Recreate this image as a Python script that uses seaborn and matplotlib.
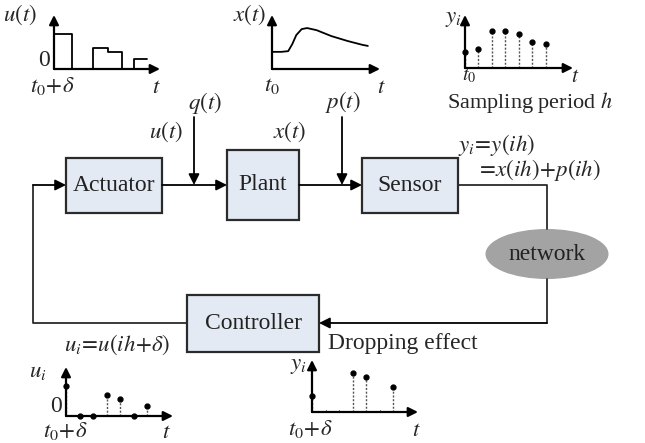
import matplotlib.pyplot as plt
import seaborn as sns
from matplotlib.patches import Rectangle, Ellipse

# ---- data ----
# continuous control signal u(t) (zero-order hold), times in sampling periods h
u_t_edges = [0, 1.3, 2.9, 4.0, 5.0, 5.9, 6.9]
u_t_levels = [1.0, 0.0, 0.6, 0.49, 0.0, 0.29]

# plant state x(t)
x_t_time = [0, 0.7, 1.2, 1.5, 1.8, 2.2, 2.6, 3.3, 4.4, 5.6, 6.7, 7.1]
x_t_vals = [0.49, 0.49, 0.51, 0.71, 0.97, 1.14, 1.17, 1.11, 0.94, 0.80, 0.69, 0.66]

# sampled measurements y_i
sample_k = [0, 1, 2, 3, 4, 5, 6]
y_sampled = [0.46, 0.54, 1.06, 1.06, 0.97, 0.74, 0.69]

# controller outputs u_i
u_held = [0.86, 0.0, 0.0, 0.6, 0.49, 0.0, 0.29]

# measurements received after packet dropping (None = dropped)
y_received = [0.46, None, None, 1.11, 1.0, None, 0.71]

blocks = ["Actuator", "Plant", "Sensor", "Controller"]

sns.set_theme(style="white")
plt.rcParams["font.family"] = ["Liberation Serif", "DejaVu Serif"]
plt.rcParams["mathtext.fontset"] = "stix"

W, H = 645, 443
fig = plt.figure(figsize=(6.45, 4.43), dpi=100)
ax = fig.add_axes([0, 0, 1, 1])
ax.set_xlim(0, W)
ax.set_ylim(H, 0)
ax.axis("off")

PX_X, PX_Y = 13.5, 35.0  # pixels per h and per unit of signal
BOX_FACE = "#e4eaf4"
LINE = "#2b2b2b"
TXT = 17      # plain text size
MATH = 16.5   # italic label size
arrow = dict(arrowstyle="-|>", color="black", lw=1.3, mutation_scale=16, shrinkA=0, shrinkB=0)


def inset(ox, oy, xlen, ylen):
    # small axes whose origin sits at pixel (ox, oy)
    a = fig.add_axes([ox / W, 1 - oy / H, xlen / W, ylen / H])
    a.set_xlim(0, xlen / PX_X)
    a.set_ylim(0, ylen / PX_Y)
    a.axis("off")
    a.annotate("", xy=(1.0, 0), xytext=(0, 0), xycoords="axes fraction",
               arrowprops=dict(arrowstyle="-|>", color="black", lw=1.6, mutation_scale=14, shrinkA=0, shrinkB=0))
    a.annotate("", xy=(0, 1.0), xytext=(0, 0), xycoords="axes fraction",
               arrowprops=dict(arrowstyle="-|>", color="black", lw=1.6, mutation_scale=14, shrinkA=0, shrinkB=0))
    return a


def stems(a, ks, vals, marker_size=3.5):
    for k, v in zip(ks, vals):
        if v is None:
            a.plot([k, k], [0, 0.06], color="#777777", lw=0.8, clip_on=False)
            continue
        if v > 0:
            a.plot([k, k], [0, v], color="#555555", lw=1.0, ls=(0, (1.5, 1.2)), clip_on=False)
        a.plot(k, v, "o", color="black", ms=marker_size, clip_on=False)


# ---- top-left: u(t) ----
a1 = inset(54, 69, 106, 54)
a1.step(u_t_edges, u_t_levels + [u_t_levels[-1]], where="post", color="black", lw=1.3)
ax.text(20, 15, "$u(t)$", fontsize=MATH, ha="center", va="center")
ax.text(44, 60, "0", fontsize=TXT, ha="center", va="center")
ax.text(52, 86, r"$t_0\!+\!\delta$", fontsize=MATH, ha="center", va="center")
ax.text(156, 87, "$t$", fontsize=MATH, ha="center", va="center")

# ---- top-middle: x(t) ----
a2 = inset(272, 69, 108, 54)
sns.lineplot(x=x_t_time, y=x_t_vals, ax=a2, color="black", lw=1.3)
a2.axis("off")
ax.text(250, 15, "$x(t)$", fontsize=MATH, ha="center", va="center")
ax.text(272, 85, "$t_0$", fontsize=MATH, ha="center", va="center")
ax.text(381, 87, "$t$", fontsize=MATH, ha="center", va="center")

# ---- top-right: sampled y_i ----
a3 = inset(465, 68, 108, 53)
stems(a3, sample_k, y_sampled)
ax.text(453, 18, "$y_i$", fontsize=MATH, ha="center", va="center")
ax.text(469, 76, "$t_0$", fontsize=MATH - 2, ha="center", va="center")
ax.text(575, 77, "$t$", fontsize=MATH - 1, ha="center", va="center")
ax.text(530, 102, "Sampling period $h$", fontsize=16, ha="center", va="center")

# ---- blocks ----
box_geom = {"Actuator": (66, 158, 96, 55), "Plant": (227, 150, 72, 70),
            "Sensor": (362, 158, 96, 55), "Controller": (187, 295, 132, 57)}
for name in blocks:
    bx, by, bw, bh = box_geom[name]
    ax.add_patch(Rectangle((bx, by), bw, bh, facecolor=BOX_FACE, edgecolor=LINE, lw=1.6))
    ax.text(bx + bw / 2, by + bh / 2, name, fontsize=TXT, ha="center", va="center", color="#222222")

ax.add_patch(Ellipse((547, 254), 123, 50, facecolor="#a3a3a3", edgecolor="none"))
ax.text(547, 254, "network", fontsize=TXT, ha="center", va="center", color="#222222")

# ---- connections ----
ax.annotate("", xy=(227, 185), xytext=(162, 185), arrowprops=arrow)
ax.annotate("", xy=(194, 185), xytext=(194, 117), arrowprops=arrow)
ax.annotate("", xy=(362, 185), xytext=(299, 185), arrowprops=arrow)
ax.annotate("", xy=(342, 185), xytext=(342, 117), arrowprops=arrow)
ax.plot([458, 547, 547], [185, 185, 229], color=LINE, lw=1.3)
ax.plot([547, 547], [279, 323], color=LINE, lw=1.3)
ax.annotate("", xy=(319, 323), xytext=(547, 323), arrowprops=arrow)
ax.plot([187, 33, 33], [323, 323, 185], color=LINE, lw=1.3)
ax.annotate("", xy=(66, 185), xytext=(33, 185), arrowprops=arrow)

ax.text(205, 103, "$q(t)$", fontsize=MATH, ha="center", va="center")
ax.text(166, 132, "$u(t)$", fontsize=MATH, ha="center", va="center")
ax.text(290, 132, "$x(t)$", fontsize=MATH, ha="center", va="center")
ax.text(343, 102, "$p(t)$", fontsize=MATH, ha="center", va="center")
ax.text(496, 145, "$y_i\\!=\\!y(ih)$", fontsize=MATH, ha="center", va="center")
ax.text(538, 170, "$=\\!x(ih)\\!+\\!p(ih)$", fontsize=MATH, ha="center", va="center")
ax.text(117, 345, "$u_i\\!=\\!u(ih\\!+\\!\\delta)$", fontsize=MATH, ha="center", va="center")
ax.text(403, 343, "Dropping effect", fontsize=TXT, ha="center", va="center")

# ---- bottom-left: u_i ----
a4 = inset(66, 416, 107, 49)
stems(a4, sample_k, u_held)
ax.text(38, 372, "$u_i$", fontsize=MATH, ha="center", va="center")
ax.text(56, 407, "0", fontsize=TXT, ha="center", va="center")
ax.text(65, 431, r"$t_0\!+\!\delta$", fontsize=MATH, ha="center", va="center")
ax.text(166, 432, "$t$", fontsize=MATH, ha="center", va="center")

# ---- bottom-middle: y_i after dropping ----
a5 = inset(312, 412, 106, 52)
stems(a5, sample_k, y_received)
ax.text(298, 366, "$y_i$", fontsize=MATH, ha="center", va="center")
ax.text(310, 429, r"$t_0\!+\!\delta$", fontsize=MATH, ha="center", va="center")
ax.text(416, 431, "$t$", fontsize=MATH, ha="center", va="center")

fig.savefig("out.png", dpi=100)
plt.close(fig)
